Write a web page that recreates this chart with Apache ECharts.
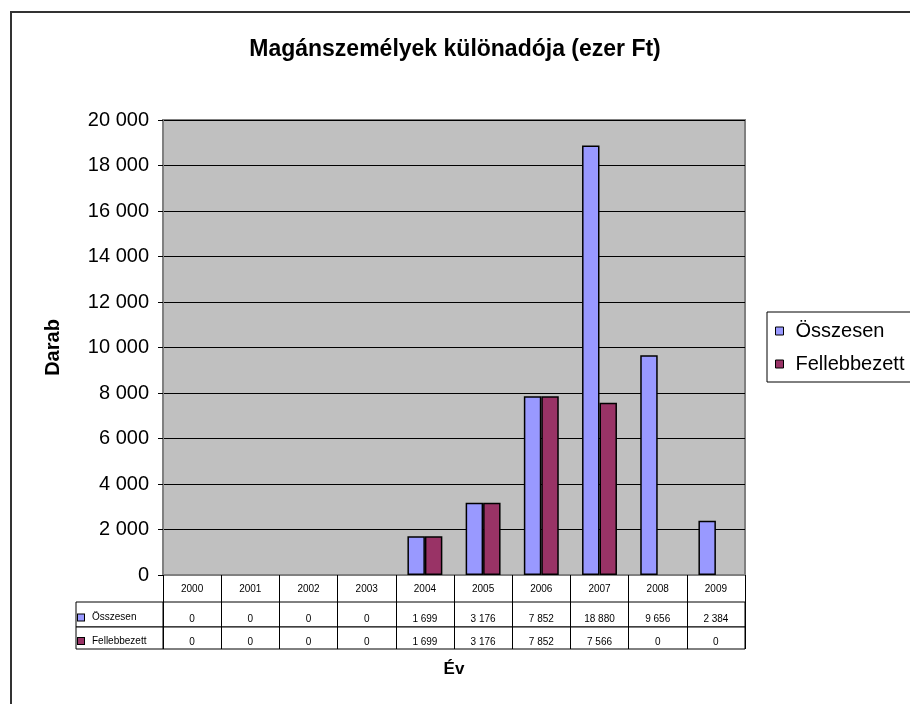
<!DOCTYPE html>
<html>
<head>
<meta charset="utf-8">
<script src="https://cdn.jsdelivr.net/npm/echarts@6/dist/echarts.min.js"></script>
<style>
  html, body { margin: 0; padding: 0; background: #fff; }
  #chart { width: 910px; height: 704px; }
</style>
</head>
<body>
<div id="chart"></div>
<script>
// adatok
const years = ['2000', '2001', '2002', '2003', '2004', '2005', '2006', '2007', '2008', '2009']
const osszesen = [0, 0, 0, 0, 1699, 3176, 7852, 18880, 9656, 2384]
const fellebbezett = [0, 0, 0, 0, 1699, 3176, 7852, 7566, 0, 0]
const seriesNames = ['Összesen', 'Fellebbezett']
const seriesColors = ['#9999FF', '#993366']

const font = "'Liberation Sans', Arial, sans-serif"

// 20000 -> "20 000"
function fmt(v) {
    return String(v).replace(/\B(?=(\d{3})+(?!\d))/g, ' ')
}

// 0 értékű oszlopot nem rajzolunk
function barData(arr) {
    return arr.map(v => v === 0 ? '-' : v)
}

// táblázat egy sora (értékek)
function rowXAxis(gridIndex, values, margin) {
    return {
        type: 'category',
        gridIndex: gridIndex,
        data: years,
        position: 'bottom',
        axisLine: { show: false },
        axisTick: { show: false },
        splitLine: { show: true, interval: 0, lineStyle: { color: '#000', width: 1 } },
        axisLabel: {
            interval: 0,
            margin: margin,
            fontFamily: font,
            fontSize: 10,
            color: '#000',
            formatter: (val, idx) => fmt(values[idx])
        }
    }
}

// táblázat sor fejléce (jelmagyarázat kulccsal)
function headYAxis(gridIndex, name, color) {
    return {
        type: 'category',
        gridIndex: gridIndex,
        data: [name],
        axisLine: { show: false },
        axisTick: { show: false },
        splitLine: { show: false },
        axisLabel: {
            align: 'left',
            margin: -2,
            padding: [6, 0, 0, 0],
            fontFamily: font,
            fontSize: 10,
            color: '#000',
            formatter: v => '{icon|}{sp|}' + v,
            rich: {
                icon: { width: 6, height: 6, backgroundColor: color, borderColor: '#000', borderWidth: 1 },
                sp: { width: 8 }
            }
        }
    }
}

function hiddenAxis(gridIndex) {
    return { type: 'value', gridIndex: gridIndex, show: false }
}

function init() {
    const myChart = echarts.init(document.querySelector('#chart'))
    const cellGrid = { show: true, backgroundColor: '#fff', borderColor: '#000', borderWidth: 1 }
    const option = {
        backgroundColor: '#fff',
        animation: false,
        title: {
            text: 'Magánszemélyek különadója (ezer Ft)',
            left: 'center',
            top: 33,
            textStyle: { fontFamily: font, fontSize: 23, fontWeight: 'bold', color: '#000' }
        },
        legend: {
            orient: 'vertical',
            left: 767,
            top: 312,
            data: seriesNames,
            icon: 'rect',
            itemWidth: 8,
            itemHeight: 8,
            itemGap: 13,
            padding: [9, 8, 8, 8],
            borderColor: '#000',
            borderWidth: 1,
            itemStyle: { borderColor: '#000', borderWidth: 1 },
            textStyle: { fontFamily: font, fontSize: 20, lineHeight: 20, color: '#000', padding: [0, 0, 0, 7] }
        },
        graphic: [{
            type: 'rect',
            silent: true,
            z: -10,
            shape: { x: 11, y: 12, width: 1000, height: 1000 },
            style: { fill: 'none', stroke: '#333', lineWidth: 2 }
        }],
        grid: [
            { left: 163, top: 120, width: 582, height: 455, show: true, backgroundColor: '#C0C0C0', borderColor: '#808080', borderWidth: 2 },
            Object.assign({ left: 163, top: 602, width: 582, height: 25 }, cellGrid),
            Object.assign({ left: 163, top: 627, width: 582, height: 22 }, cellGrid),
            Object.assign({ left: 76, top: 602, width: 87, height: 25 }, cellGrid),
            Object.assign({ left: 76, top: 627, width: 87, height: 22 }, cellGrid)
        ],
        xAxis: [
            {
                type: 'category',
                gridIndex: 0,
                data: years,
                name: 'Év',
                nameLocation: 'middle',
                nameGap: 86,
                nameTextStyle: { fontFamily: font, fontSize: 17, fontWeight: 'bold', color: '#000' },
                axisLine: { show: true, lineStyle: { color: '#808080', width: 2 } },
                axisTick: { show: true, inside: false, length: 27, interval: 0, lineStyle: { color: '#000', width: 1 } },
                axisLabel: { interval: 0, margin: 9, fontFamily: font, fontSize: 10, color: '#000' }
            },
            rowXAxis(1, osszesen, -13),
            rowXAxis(2, fellebbezett, -12),
            { type: 'category', gridIndex: 3, data: [''], show: false },
            { type: 'category', gridIndex: 4, data: [''], show: false }
        ],
        yAxis: [
            {
                type: 'value',
                gridIndex: 0,
                min: 0,
                max: 20000,
                interval: 2000,
                name: 'Darab',
                nameLocation: 'middle',
                nameRotate: 90,
                nameGap: 100,
                nameTextStyle: { fontFamily: font, fontSize: 20, fontWeight: 'bold', color: '#000' },
                axisLine: { show: true, lineStyle: { color: '#808080', width: 2 } },
                axisTick: { show: true, length: 5, lineStyle: { color: '#000' } },
                axisLabel: { margin: 14, fontFamily: font, fontSize: 20, color: '#000', formatter: fmt },
                splitLine: { show: true, lineStyle: { color: '#000', width: 1 } }
            },
            hiddenAxis(1),
            hiddenAxis(2),
            headYAxis(3, seriesNames[0], seriesColors[0]),
            headYAxis(4, seriesNames[1], seriesColors[1])
        ],
        series: [
            {
                name: seriesNames[0],
                type: 'bar',
                xAxisIndex: 0,
                yAxisIndex: 0,
                data: barData(osszesen),
                barWidth: '30%',
                barGap: '0%',
                itemStyle: { color: seriesColors[0], borderColor: '#000', borderWidth: 1.5 }
            },
            {
                name: seriesNames[1],
                type: 'bar',
                xAxisIndex: 0,
                yAxisIndex: 0,
                data: barData(fellebbezett),
                barWidth: '30%',
                barGap: '0%',
                itemStyle: { color: seriesColors[1], borderColor: '#000', borderWidth: 1.5 }
            }
        ]
    }
    myChart.setOption(option)
}

init()
</script>
</body>
</html>
